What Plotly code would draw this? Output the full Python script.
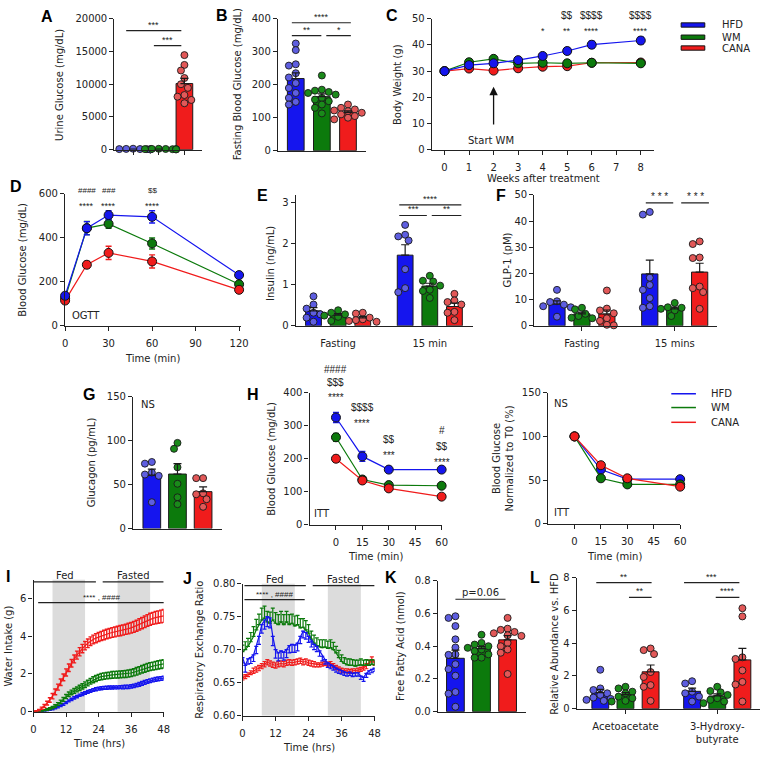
import numpy as np
import plotly.graph_objects as go

W, H = 768, 758
BLUE, GREEN, RED = '#1515ee', '#0c7a0c', '#f01c1c'
DBLUE, DGREEN, DRED = '#5e5ee0', '#1a8a1a', '#e25858'
FONT = 'DejaVu Sans, Arial, sans-serif'
SYM = 'Arial, Liberation Sans, sans-serif'
TXT = '#222222'
LC = '#222222'

# ---------------- data ----------------
groups = ['HFD', 'WM', 'CANA']

# A urine glucose (mg/dL)
urine_hfd = [150, 120, 100, 90, 80, 60, 50, 40]
urine_wm = [140, 120, 110, 90, 80, 70, 60, 50]
urine_cana = [14450, 12950, 12100, 10950, 10000, 9450, 8350, 8100, 7600, 7100]

# B fasting blood glucose (mg/dL)
fbg_hfd = [325, 305, 262, 258, 235, 222, 205, 190, 175, 160, 148, 140]
fbg_wm = [228, 185, 182, 178, 175, 170, 160, 155, 150, 140, 130, 113]
fbg_cana = [140, 130, 125, 122, 120, 115, 110, 105, 100, 95]

# C body weight (g)
weeks = [0, 1, 2, 3, 4, 5, 6, 8]
bw_hfd = [30, 32.3, 33, 34.2, 35.8, 37.7, 40.1, 41.7]
bw_hfd_err = [0.5, 0.5, 0.6, 0.7, 0.8, 1.2, 1.3, 1.3]
bw_wm = [30, 33.4, 34.7, 33, 33.2, 33, 33.2, 33]
bw_wm_err = [0.4, 0.5, 0.5, 0.5, 0.5, 0.5, 0.5, 0.5]
bw_cana = [30, 31, 30.2, 31.1, 31.7, 31.9, 33.2, 33.3]
bw_cana_err = [0.4, 0.4, 0.4, 0.4, 0.5, 0.5, 0.5, 0.6]
bw_stars = {4: '*', 5: '**', 6: '****', 8: '****'}
bw_dollars = {5: '$$', 6: '$$$$', 8: '$$$$'}

# D OGTT
t_ogtt = [0, 15, 30, 60, 120]
ogtt_hfd = [137, 444, 504, 496, 231]
ogtt_hfd_err = [12, 30, 20, 28, 15]
ogtt_wm = [125, 445, 464, 375, 189]
ogtt_wm_err = [10, 30, 20, 25, 10]
ogtt_cana = [115, 278, 332, 293, 164]
ogtt_cana_err = [10, 15, 30, 30, 8]

# E insulin (ng/mL)
ins_f_hfd = [0.72, 0.52, 0.42, 0.32, 0.28, 0.2, 0.1]
ins_f_wm = [0.38, 0.32, 0.28, 0.25, 0.22, 0.12]
ins_f_cana = [0.32, 0.3, 0.2, 0.16, 0.14, 0.12, 0.1]
ins_15_hfd = [2.46, 2.22, 2.18, 2.08, 1.38, 0.92, 0.82]
ins_15_wm = [1.22, 1.1, 1.08, 0.98, 0.88, 0.85, 0.68]
ins_15_cana = [0.78, 0.62, 0.58, 0.52, 0.34, 0.32, 0.14]

# F GLP-1 (pM)
glp_f_hfd = [13.75, 9.4, 9.1, 8.1, 7.5, 7.1, 3.5]
glp_f_wm = [6.9, 6.3, 4.6, 3.75, 3.1, 2.9]
glp_f_cana = [13.5, 6.6, 5.9, 4.8, 2.9, 1.9, 0.4, 0.2]
glp_15_hfd = [43.5, 42.5, 18.4, 15.6, 13.75, 10.6, 7.5, 6.9]
glp_15_wm = [8.75, 7.1, 6.9, 6.5, 5.9, 3.75]
glp_15_cana = [32.25, 31.25, 26.1, 25.9, 15, 14.4, 12.9, 6.5]

# G glucagon (pg/mL)
gcg_hfd = [75.75, 73.9, 63.75, 61.5, 60, 30]
gcg_wm = [97.5, 90.75, 69.75, 51, 35.6, 27.75]
gcg_cana = [57.4, 57.4, 40.1, 39, 33.4, 24.8]

# H ITT
t_itt = [0, 15, 30, 60]
itt_hfd = [325, 207, 167, 167]
itt_hfd_err = [15, 15, 8, 8]
itt_wm = [265, 137, 120, 118]
itt_wm_err = [12, 6, 6, 6]
itt_cana = [200, 134, 110, 85]
itt_cana_err = [10, 5, 5, 5]
itt_n_hfd = [100, 62, 51, 51]
itt_n_hfd_err = [3, 3, 2, 2]
itt_n_wm = [100, 52, 45, 45]
itt_n_wm_err = [3, 2, 2, 2]
itt_n_cana = [100, 67, 52, 42.4]
itt_n_cana_err = [4, 3, 2, 2]

# I water intake (g), hourly 0..48
hours = list(range(49))
wi_cana = [0, 0.03, 0.08, 0.18, 0.3, 0.45, 0.62, 0.82, 1.05, 1.3,
           1.56, 1.82, 2.08, 2.33, 2.57, 2.8, 3.0, 3.18, 3.35, 3.5,
           3.63, 3.74, 3.83, 3.9, 3.96, 4.02, 4.07, 4.12, 4.16, 4.2,
           4.23, 4.27, 4.3, 4.33, 4.37, 4.41, 4.45, 4.5, 4.56, 4.63,
           4.7, 4.77, 4.84, 4.9, 4.95, 4.99, 5.02, 5.05, 5.08]
wi_cana_err = [0, 0.02, 0.04, 0.06, 0.08, 0.1, 0.12, 0.14, 0.15, 0.16,
               0.17, 0.18, 0.19, 0.2, 0.2, 0.21, 0.21, 0.22, 0.22, 0.22,
               0.23, 0.23, 0.23, 0.24, 0.24, 0.24, 0.25, 0.25, 0.25, 0.26,
               0.26, 0.26, 0.27, 0.27, 0.27, 0.28, 0.28, 0.29, 0.29, 0.3,
               0.3, 0.31, 0.31, 0.32, 0.32, 0.33, 0.33, 0.34, 0.34]
wi_wm = [0, 0.01, 0.02, 0.04, 0.07, 0.11, 0.16, 0.22, 0.3, 0.4,
         0.52, 0.65, 0.8, 0.92, 1.02, 1.1, 1.18, 1.26, 1.34, 1.43,
         1.52, 1.61, 1.69, 1.76, 1.82, 1.86, 1.89, 1.91, 1.93, 1.95,
         1.96, 1.97, 1.98, 1.99, 2.0, 2.02, 2.05, 2.09, 2.14, 2.19,
         2.25, 2.3, 2.35, 2.39, 2.42, 2.45, 2.48, 2.51, 2.54]
wi_wm_err = [0, 0.01, 0.01, 0.02, 0.03, 0.04, 0.05, 0.06, 0.07, 0.08,
             0.09, 0.1, 0.11, 0.12, 0.12, 0.13, 0.13, 0.14, 0.14, 0.15,
             0.15, 0.15, 0.16, 0.16, 0.16, 0.17, 0.17, 0.17, 0.17, 0.18,
             0.18, 0.18, 0.18, 0.18, 0.19, 0.19, 0.19, 0.19, 0.2, 0.2,
             0.2, 0.21, 0.21, 0.21, 0.21, 0.22, 0.22, 0.22, 0.22]
wi_hfd = [0, 0, 0.01, 0.02, 0.04, 0.06, 0.09, 0.13, 0.18, 0.24,
          0.31, 0.39, 0.48, 0.57, 0.65, 0.73, 0.8, 0.87, 0.93, 0.99,
          1.05, 1.1, 1.15, 1.19, 1.22, 1.24, 1.26, 1.27, 1.28, 1.28,
          1.29, 1.29, 1.3, 1.3, 1.31, 1.32, 1.34, 1.37, 1.41, 1.45,
          1.5, 1.55, 1.6, 1.64, 1.68, 1.71, 1.74, 1.76, 1.78]
wi_hfd_err = [0, 0, 0.01, 0.01, 0.01, 0.02, 0.02, 0.03, 0.03, 0.04,
              0.04, 0.05, 0.05, 0.05, 0.06, 0.06, 0.06, 0.06, 0.07, 0.07,
              0.07, 0.07, 0.07, 0.08, 0.08, 0.08, 0.08, 0.08, 0.08, 0.08,
              0.08, 0.08, 0.08, 0.09, 0.09, 0.09, 0.09, 0.09, 0.09, 0.1,
              0.1, 0.1, 0.1, 0.1, 0.1, 0.1, 0.1, 0.1, 0.1]

# J respiratory exchange ratio, hourly 0..48
rer_wm = [0.697, 0.700, 0.705, 0.712, 0.720, 0.730, 0.738, 0.745, 0.748, 0.742,
          0.740, 0.745, 0.740, 0.738, 0.742, 0.738, 0.742, 0.738, 0.740, 0.736,
          0.738, 0.733, 0.734, 0.730, 0.725, 0.716, 0.710, 0.706, 0.704, 0.703,
          0.704, 0.702, 0.703, 0.700, 0.695, 0.688, 0.682, 0.679, 0.677, 0.676,
          0.676, 0.675, 0.676, 0.677, 0.676, 0.677, 0.676, 0.678, 0.677]
rer_wm_err = [0.010, 0.012, 0.012, 0.014, 0.015, 0.016, 0.016, 0.018, 0.018, 0.016,
              0.017, 0.018, 0.016, 0.015, 0.016, 0.015, 0.016, 0.015, 0.014, 0.015,
              0.014, 0.014, 0.013, 0.014, 0.013, 0.012, 0.012, 0.012, 0.011, 0.012,
              0.011, 0.011, 0.012, 0.011, 0.010, 0.011, 0.010, 0.009, 0.009, 0.010,
              0.009, 0.009, 0.008, 0.009, 0.008, 0.008, 0.008, 0.007, 0.007]
rer_hfd = [0.688, 0.676, 0.686, 0.688, 0.692, 0.705, 0.720, 0.738, 0.745, 0.750,
           0.748, 0.720, 0.700, 0.695, 0.698, 0.696, 0.700, 0.706, 0.708, 0.707,
           0.710, 0.720, 0.728, 0.726, 0.720, 0.713, 0.708, 0.705, 0.698, 0.690,
           0.685, 0.680, 0.677, 0.675, 0.672, 0.670, 0.668, 0.666, 0.665, 0.666,
           0.664, 0.665, 0.665, 0.660, 0.658, 0.664, 0.668, 0.670, 0.672]
rer_hfd_err = [0.008, 0.010, 0.008, 0.009, 0.010, 0.011, 0.012, 0.013, 0.014, 0.015,
               0.015, 0.014, 0.013, 0.012, 0.011, 0.012, 0.012, 0.011, 0.012, 0.011,
               0.012, 0.011, 0.010, 0.010, 0.009, 0.009, 0.008, 0.008, 0.008, 0.007,
               0.007, 0.007, 0.006, 0.006, 0.006, 0.006, 0.005, 0.005, 0.005, 0.005,
               0.005, 0.005, 0.005, 0.005, 0.006, 0.006, 0.005, 0.005, 0.005]
rer_cana = [0.657, 0.659, 0.662, 0.665, 0.668, 0.670, 0.672, 0.675, 0.678, 0.681,
            0.679, 0.677, 0.676, 0.678, 0.679, 0.678, 0.680, 0.681, 0.680, 0.681,
            0.682, 0.683, 0.681, 0.682, 0.680, 0.679, 0.678, 0.677, 0.677, 0.678,
            0.679, 0.678, 0.679, 0.676, 0.673, 0.671, 0.669, 0.668, 0.668, 0.667,
            0.668, 0.668, 0.669, 0.670, 0.672, 0.675, 0.680, 0.685, 0.680]
rer_cana_err = [0.003, 0.003, 0.003, 0.003, 0.004, 0.004, 0.004, 0.004, 0.004, 0.004,
                0.004, 0.004, 0.004, 0.004, 0.004, 0.004, 0.004, 0.004, 0.004, 0.004,
                0.004, 0.004, 0.004, 0.004, 0.004, 0.004, 0.004, 0.003, 0.003, 0.003,
                0.003, 0.003, 0.003, 0.003, 0.003, 0.003, 0.003, 0.003, 0.003, 0.003,
                0.003, 0.003, 0.003, 0.003, 0.003, 0.004, 0.004, 0.004, 0.004]
dark_periods = [(7, 19), (31, 43)]
phase_labels = [('Fed', 0, 23), ('Fasted', 25.5, 48)]

# K free fatty acid (nmol)
ffa_hfd = [0.583, 0.573, 0.523, 0.442, 0.392, 0.35, 0.347, 0.29, 0.26, 0.22, 0.12, 0.11, 0.03]
ffa_wm = [0.47, 0.42, 0.41, 0.40, 0.39, 0.38, 0.37, 0.35, 0.33, 0.33]
ffa_cana = [0.573, 0.507, 0.5, 0.487, 0.479, 0.467, 0.463, 0.42, 0.4, 0.38, 0.36, 0.23]

# L ketones, relative abundance vs HFD
aa_hfd = [2.38, 1.24, 1.14, 0.94, 0.84, 0.68, 0.6, 0.54, 0.48]
aa_wm = [1.34, 1.24, 1.04, 0.94, 0.74, 0.64, 0.48, 0.44]
aa_cana = [3.68, 3.58, 3.34, 2.24, 1.94, 1.44, 1.34, 0.48]
hb_hfd = [1.68, 1.54, 1.04, 0.94, 0.74, 0.44]
hb_wm = [1.34, 1.08, 1.0, 0.84, 0.64, 0.54, 0.44, 0.34]
hb_cana = [6.14, 5.64, 3.14, 3.04, 2.34, 1.64, 1.48, 0.44]

# ---------------- helpers ----------------
fig = go.Figure()
layout = {}
shapes = []
anns = []
RANGES = {}
COLORS = [BLUE, GREEN, RED]
DCOLORS = [DBLUE, DGREEN, DRED]


def sid(n):
    return '' if n == 1 else str(n)


def add_axes(n, x0, x1, y0, y1, xr, yr, xextra=None, yextra=None):
    base = dict(showline=True, linecolor=LC, linewidth=1.3, ticks='outside', ticklen=4,
                tickwidth=1.2, tickcolor=LC, showgrid=False, zeroline=False,
                tickfont=dict(family=FONT, size=10, color=TXT), fixedrange=True,
                exponentformat='none', separatethousands=False)
    xa = dict(base, domain=[x0 / W, x1 / W], range=xr, anchor='y' + sid(n), ticklabelstandoff=4)
    ya = dict(base, domain=[1 - y1 / H, 1 - y0 / H], range=yr, anchor='x' + sid(n))
    if xextra:
        xa.update(xextra)
    if yextra:
        ya.update(yextra)
    layout['xaxis' + sid(n)] = xa
    layout['yaxis' + sid(n)] = ya
    RANGES[n] = (xr, yr)


def ptxt(px, py, s, size=10, **kw):
    d = dict(x=px / W, y=1 - py / H, xref='paper', yref='paper', text=s, showarrow=False,
             xanchor='center', yanchor='middle',
             font=dict(family=FONT, size=size, color=TXT))
    d.update(kw)
    anns.append(d)


def dtxt(n, x, y, s, size=9, family=FONT, **kw):
    xr, yr = RANGES[n]
    d = dict(x=(x - xr[0]) / (xr[1] - xr[0]), y=(y - yr[0]) / (yr[1] - yr[0]),
             xref='x' + sid(n) + ' domain', yref='y' + sid(n) + ' domain', text=s, showarrow=False,
             xanchor='center', yanchor='middle',
             font=dict(family=family, size=size, color=TXT))
    d.update(kw)
    anns.append(d)


def sig(n, x0, x1, y, s, size=9, family=SYM):
    shapes.append(dict(type='line', xref='x' + sid(n), yref='y' + sid(n), x0=x0, x1=x1,
                       y0=y, y1=y, line=dict(color=LC, width=1.2)))
    dtxt(n, (x0 + x1) / 2, y, s, size=size, family=family, yanchor='bottom', yshift=-1)


def swarm(vals, sx, sy, d=7.0):
    order = sorted(range(len(vals)), key=lambda i: -vals[i])
    cands = [0, -0.5, 0.5, -1, 1, -1.5, 1.5, -2, 2, -2.5, 2.5]
    placed = []
    offs = [0.0] * len(vals)
    for i in order:
        ox = 0
        for c in cands:
            ox = c * d
            if all((ox - px_) ** 2 + ((vals[i] - pv) * sy) ** 2 >= (0.92 * d) ** 2 for px_, pv in placed):
                break
        placed.append((ox, vals[i]))
        offs[i] = ox / sx
    return offs


def bars(n, positions, datasets, width, sx, sy):
    xs, ys = 'x' + sid(n), 'y' + sid(n)
    for p, vals, c, dc in zip(positions, datasets, COLORS * 2, DCOLORS * 2):
        v = np.array(vals, float)
        m = float(v.mean())
        se = float(v.std(ddof=1) / np.sqrt(len(v)))
        fig.add_trace(go.Bar(x=[p], y=[m], width=width,
                             marker=dict(color=c, line=dict(color='#1a1a1a', width=1)),
                             xaxis=xs, yaxis=ys))
        offs = swarm(list(vals), sx, sy)
        fig.add_trace(go.Scatter(x=[p + o for o in offs], y=vals, mode='markers',
                                 marker=dict(size=7, color=dc, line=dict(color='#1a1a1a', width=0.9)),
                                 cliponaxis=False, xaxis=xs, yaxis=ys))
        fig.add_trace(go.Scatter(x=[p], y=[m], mode='markers', marker=dict(size=1, color='rgba(0,0,0,0)'),
                                 error_y=dict(type='data', symmetric=False, array=[se], arrayminus=[0],
                                              color='#1a1a1a', thickness=1.2, width=4),
                                 cliponaxis=False, xaxis=xs, yaxis=ys))


def lines(n, x, series, errs, colors, msize=9, mode='lines+markers', lw=1.2, ew=3):
    xs, ys = 'x' + sid(n), 'y' + sid(n)
    for y, e, c in zip(series, errs, colors):
        fig.add_trace(go.Scatter(x=x, y=y, mode=mode, line=dict(color=c, width=lw),
                                 marker=dict(size=msize, color=c, line=dict(color='#111', width=1)),
                                 error_y=dict(type='data', array=e, color=c, thickness=1.4, width=ew),
                                 cliponaxis=False, xaxis=xs, yaxis=ys))


# ---------------- A ----------------
add_axes(1, 113, 202, 13, 146, [-0.73, 2.69], [0, 20000],
         xextra=dict(tickvals=[0, 1, 2], ticktext=['', '', '']),
         yextra=dict(tickvals=[0, 5000, 10000, 15000, 20000], tickformat='d'))
bars(1, [0, 1, 2], [urine_hfd, urine_wm, urine_cana], 0.65, 26, 133 / 20000)
sig(1, -0.27, 1.88, 18200, '***')
sig(1, 0.81, 1.88, 15900, '***')

# ---------------- B ----------------
add_axes(2, 279, 368, 13, 147, [-0.68, 2.68], [0, 400],
         xextra=dict(ticks='', showticklabels=False), yextra=dict(dtick=100))
bars(2, [0, 1, 2], [fbg_hfd, fbg_wm, fbg_cana], 0.64, 26.5, 134 / 400)
sig(2, -0.15, 2.11, 388, '****')
sig(2, -0.15, 0.98, 349, '**')
sig(2, 1.17, 2.11, 349, '*')

# ---------------- C ----------------
add_axes(3, 435, 660, 13, 146, [-0.52, 8.52], [0, 50],
         xextra=dict(tickvals=list(range(9))), yextra=dict(dtick=10))
lines(3, weeks, [bw_cana, bw_wm, bw_hfd], [bw_cana_err, bw_wm_err, bw_hfd_err], [RED, GREEN, BLUE])
for wk, s in bw_stars.items():
    dtxt(3, wk, 45.5, s, size=9, family=SYM)
for wk, s in bw_dollars.items():
    dtxt(3, wk, 51.2, s, size=10, family=SYM)
dtxt(3, 1.9, 3.4, 'Start WM', size=10)
anns.append(dict(x=2, y=24, ax=2, ay=9, xref='x3', yref='y3', axref='x3', ayref='y3', text='',
                 showarrow=True, arrowhead=2, arrowsize=1.3, arrowwidth=1.3, arrowcolor='#111'))

# legend C
for i, (g, c) in enumerate(zip(groups, COLORS)):
    yc = [19.3, 31.7, 42.7][i]
    shapes.append(dict(type='rect', xref='paper', yref='paper', x0=688 / W, x1=712 / W,
                       y0=1 - (yc + 2.2) / H, y1=1 - (yc - 2.2) / H,
                       fillcolor=c, line=dict(color='#111', width=1)))
    ptxt(727, yc, g, size=10, xanchor='left')

# ---------------- D ----------------
add_axes(4, 63, 241, 191, 325, [0, 121], [0, 600],
         xextra=dict(tickvals=[0, 30, 60, 90, 120]), yextra=dict(dtick=200))
lines(4, t_ogtt, [ogtt_wm, ogtt_cana, ogtt_hfd], [ogtt_wm_err, ogtt_cana_err, ogtt_hfd_err],
      [GREEN, RED, BLUE])
for tx, top, bot in [(15, '####', '****'), (30, '###', '****'), (60, '$$', '****')]:
    dtxt(4, tx, 618, top, size=8, family=SYM)
    dtxt(4, tx, 546, bot, size=9, family=SYM)
dtxt(4, 3.4, 45, 'OGTT', size=10, xanchor='left')

# ---------------- E ----------------
pos2 = [0, 1, 2, 3.72, 4.72, 5.72]
add_axes(5, 297, 477, 192, 325, [-0.72, 6.48], [0, 3.19],
         xextra=dict(tickvals=[1, 4.72], ticktext=['Fasting', '15 min'], ticks='', ticklabelstandoff=8),
         yextra=dict(tickvals=[0, 1, 2, 3]))
bars(5, pos2, [ins_f_hfd, ins_f_wm, ins_f_cana, ins_15_hfd, ins_15_wm, ins_15_cana], 0.64, 25, 41.67)
sig(5, 3.48, 6.0, 2.95, '****')
sig(5, 3.48, 4.6, 2.69, '***')
sig(5, 4.8, 6.0, 2.69, '**')

# ---------------- F ----------------
add_axes(6, 539, 724, 192, 325, [-0.91, 6.4], [0, 50],
         xextra=dict(tickvals=[1, 4.72], ticktext=['Fasting', '15 mins']),
         yextra=dict(dtick=10))
bars(6, pos2, [glp_f_hfd, glp_f_wm, glp_f_cana, glp_15_hfd, glp_15_wm, glp_15_cana], 0.65, 25.3, 2.66)
sig(6, 3.56, 4.66, 47, '* * *', size=10)
sig(6, 4.98, 6.09, 47, '* * *', size=10)

# ---------------- G ----------------
add_axes(7, 132, 222, 397, 531, [-0.73, 2.73], [0, 150],
         xextra=dict(ticks='', showticklabels=False), yextra=dict(dtick=50))
bars(7, [0, 1, 2], [gcg_hfd, gcg_wm, gcg_cana], 0.69, 26, 0.893)
dtxt(7, -0.5, 141, 'NS', size=10, xanchor='left')

# ---------------- H ----------------
add_axes(8, 311, 445, 393, 527, [-15, 60], [0, 400],
         xextra=dict(tickvals=[0, 15, 30, 45, 60]), yextra=dict(dtick=100))
lines(8, t_itt, [itt_hfd, itt_wm, itt_cana], [itt_hfd_err, itt_wm_err, itt_cana_err], [BLUE, GREEN, RED])
for tx, yv, s in [(0, 472, '####'), (0, 430, '$$$'), (0, 385, '****'),
                  (15, 355, '$$$$'), (15, 307, '****'),
                  (30, 257, '$$'), (30, 209, '***'),
                  (60, 287, '#'), (60, 236, '$$'), (60, 188, '****')]:
    dtxt(8, tx, yv, s, size=10, family=SYM)
dtxt(8, -13.5, 33, 'ITT', size=10, xanchor='left')

# ---------------- H (normalized) ----------------
add_axes(9, 553, 687, 393, 526, [-15, 60], [0, 150],
         xextra=dict(tickvals=[0, 15, 30, 45, 60]), yextra=dict(dtick=50))
lines(9, t_itt, [itt_n_hfd, itt_n_wm, itt_n_cana], [itt_n_hfd_err, itt_n_wm_err, itt_n_cana_err],
      [BLUE, GREEN, RED])
dtxt(9, -13, 137.5, 'NS', size=10, xanchor='left')
dtxt(9, -13, 12.4, 'ITT', size=10, xanchor='left')
for i, (g, c) in enumerate(zip(groups, COLORS)):
    yc = [394, 408, 423][i]
    shapes.append(dict(type='line', xref='paper', yref='paper', x0=678 / W, x1=703 / W,
                       y0=1 - yc / H, y1=1 - yc / H, line=dict(color=c, width=1.5)))
    ptxt(716, yc, g, size=10, xanchor='left')

# ---------------- I ----------------
add_axes(10, 31, 163, 583, 717, [0, 48], [0, 7],
         xextra=dict(tickvals=[0, 12, 24, 36, 48]), yextra=dict(tickvals=[0, 2, 4, 6]))
for a, b in dark_periods:
    shapes.append(dict(type='rect', xref='x10', yref='y10 domain', x0=a, x1=b, y0=0, y1=1,
                       fillcolor='#dcdcdc', line=dict(width=0), layer='below'))
lines(10, hours, [wi_hfd, wi_wm, wi_cana], [wi_hfd_err, wi_wm_err, wi_cana_err],
      [BLUE, GREEN, RED], mode='lines', ew=2)
for lab, a, b in phase_labels:
    sig(10, a, b, 6.89, lab, size=10, family=FONT)
sig(10, 1.7, 48.3, 5.79, '**** , ####', size=8)

# ---------------- J ----------------
add_axes(11, 243, 377, 587, 721, [0, 48], [0.6, 0.8],
         xextra=dict(tickvals=[0, 12, 24, 36, 48]),
         yextra=dict(tickvals=[0.6, 0.65, 0.7, 0.75, 0.8], tickformat='.2f'))
for a, b in dark_periods:
    shapes.append(dict(type='rect', xref='x11', yref='y11 domain', x0=a, x1=b, y0=0, y1=1,
                       fillcolor='#dcdcdc', line=dict(width=0), layer='below'))
fig.add_trace(go.Scatter(x=hours, y=rer_cana, mode='lines', line=dict(color=RED, width=1.2),
                         error_y=dict(type='data', array=rer_cana_err, color=RED, thickness=1.2, width=2),
                         cliponaxis=False, xaxis='x11', yaxis='y11'))
fig.add_trace(go.Scatter(x=hours, y=rer_wm, mode='lines', line=dict(color=GREEN, width=1.2),
                         error_y=dict(type='data', symmetric=False, array=rer_wm_err,
                                      arrayminus=[0] * len(rer_wm_err), color=GREEN, thickness=1.2, width=2),
                         cliponaxis=False, xaxis='x11', yaxis='y11'))
fig.add_trace(go.Scatter(x=hours, y=rer_hfd, mode='lines', line=dict(color=BLUE, width=1.2),
                         error_y=dict(type='data', symmetric=False, array=[0] * len(rer_hfd_err),
                                      arrayminus=rer_hfd_err, color=BLUE, thickness=1.2, width=2),
                         cliponaxis=False, xaxis='x11', yaxis='y11'))
for lab, a, b in phase_labels:
    sig(11, a + 0.7 if a == 0 else a, b, 0.797, lab, size=10, family=FONT)
sig(11, 0.7, 22.6, 0.776, '**** , ####', size=8)

# ---------------- K ----------------
add_axes(12, 441, 531, 584, 717, [-0.68, 2.72], [0, 0.8],
         xextra=dict(ticks='', showticklabels=False),
         yextra=dict(tickvals=[0, 0.2, 0.4, 0.6, 0.8], tickformat='.1f'))
bars(12, [0, 1, 2], [ffa_hfd, ffa_wm, ffa_cana], 0.68, 26.5, 166)
sig(12, 0, 1.92, 0.687, 'p=0.06', size=10, family=FONT)

# ---------------- L ----------------
posL = [0, 1, 2, 3.65, 4.65, 5.65]
add_axes(13, 582, 768, 581, 714, [-0.94, 6.35], [0, 8],
         xextra=dict(tickvals=[1, 4.65], ticktext=['Acetoacetate', '3-Hydroxy-<br>butyrate']),
         yextra=dict(dtick=2))
bars(13, posL, [aa_hfd, aa_wm, aa_cana, hb_hfd, hb_wm, hb_cana], 0.67, 25.5, 16.6)
sig(13, -0.16, 2.04, 7.7, '**')
sig(13, 1.14, 2.04, 6.8, '**')
sig(13, 3.33, 5.53, 7.7, '***')
sig(13, 4.59, 5.53, 6.8, '****')

# ---------------- titles ----------------
ytitles = [(58, 80, 'Urine Glucose (mg/dL)'), (238, 80, 'Fasting Blood Glucose (mg/dL)'),
           (400, 80, 'Body Weight (g)'), (20, 258, 'Blood Glucose (mg/dL)'),
           (272, 262, 'Insulin (ng/mL)'), (512, 258, 'GLP-1 (pM)'),
           (90, 464, 'Glucagon (pg/mL)'), (273, 460, 'Blood Glucose (mg/dL)'),
           (507, 460, 'Blood Glucose<br>Normalized to T0 (%)'),
           (6, 650, 'Water Intake (g)'), (200, 654, 'Respiratory Exchange Ratio'),
           (403, 650, 'Free Fatty Acid (nmol)'), (560, 648, 'Relative Abundance vs. HFD')]
for px, py, s in ytitles:
    ptxt(px, py, s, size=10, textangle=-90)
xtitles = [(548, 175, 'Weeks after treatment'), (152, 358, 'Time (min)'), (378, 559, 'Time (min)'),
           (620, 559, 'Time (min)'), (97, 749, 'Time (hrs)'), (310, 753, 'Time (hrs)')]
for px, py, s in xtitles:
    ptxt(px, py, s, size=10)
letters = [(45, 11, 'A'), (222, 10, 'B'), (395, 10, 'C'), (13, 183, 'D'), (263, 193, 'E'),
           (505, 193, 'F'), (87, 395, 'G'), (254, 395, 'H'), (5, 580, 'I'), (187, 582, 'J'),
           (394, 581, 'K'), (540, 581, 'L')]
for px, py, s in letters:
    ptxt(px, py, '<b>' + s + '</b>', font=dict(family='Arial, Liberation Sans', size=16, color='#000'))

layout.update(width=W, height=H, margin=dict(l=0, r=0, t=0, b=0), plot_bgcolor='white',
              paper_bgcolor='white', showlegend=False, barmode='overlay',
              shapes=shapes, annotations=anns, font=dict(family=FONT, size=10, color=TXT))
fig.update_layout(**layout)
fig.write_html('out.html', config={'displayModeBar': False},
               post_script="document.body.style.margin='0';")
